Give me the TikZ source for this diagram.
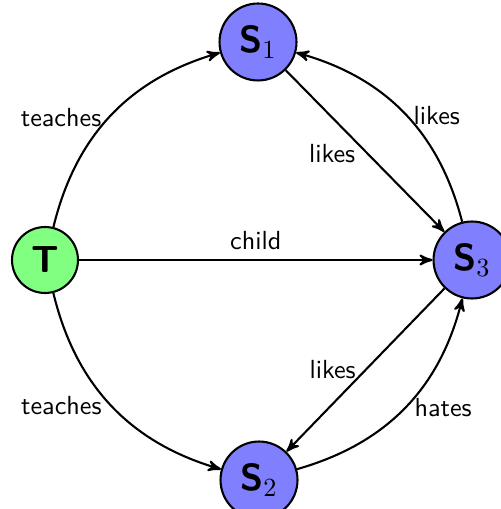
\documentclass[tikz,border=0pt]{standalone}
\usetikzlibrary{arrows}
\begin{document}
\begin{tikzpicture}[x=0.382pt,y=-0.382pt,>=stealth',
  tnode/.style={circle,draw,thick,fill=green!50,minimum size=25.2pt,inner sep=0pt,font=\Large\sffamily\bfseries},
  snode/.style={circle,draw,thick,fill=blue!50,minimum size=29.4pt,inner sep=0pt,font=\Large\sffamily\bfseries},
  conn/.style={->,thick},
  lbl/.style={font=\sffamily}]
\useasboundingbox (0,0) rectangle (500,509);
\node[tnode] (T) at (45,260) {T};
\node[snode] (S1) at (258,42) {S$_1$};
\node[snode] (S3) at (472,260) {S$_3$};
\node[snode] (S2) at (259,480) {S$_2$};
\draw[conn] (T) to[bend left] node[lbl,left,yshift=-1pt] {teaches} (S1);
\draw[conn] (T) to[bend right] node[lbl,left] {teaches} (S2);
\draw[conn] (T) -- node[lbl,above] {child} (S3);
\draw[conn] (S1) -- node[lbl,left,yshift=-1pt] {likes} (S3);
\draw[conn] (S3) to[bend right] node[lbl,right,yshift=-1pt] {likes} (S1);
\draw[conn] (S3) -- node[lbl,left] {likes} (S2);
\draw[conn] (S2) to[bend right] node[lbl,right] {hates} (S3);
\end{tikzpicture}
\end{document}
